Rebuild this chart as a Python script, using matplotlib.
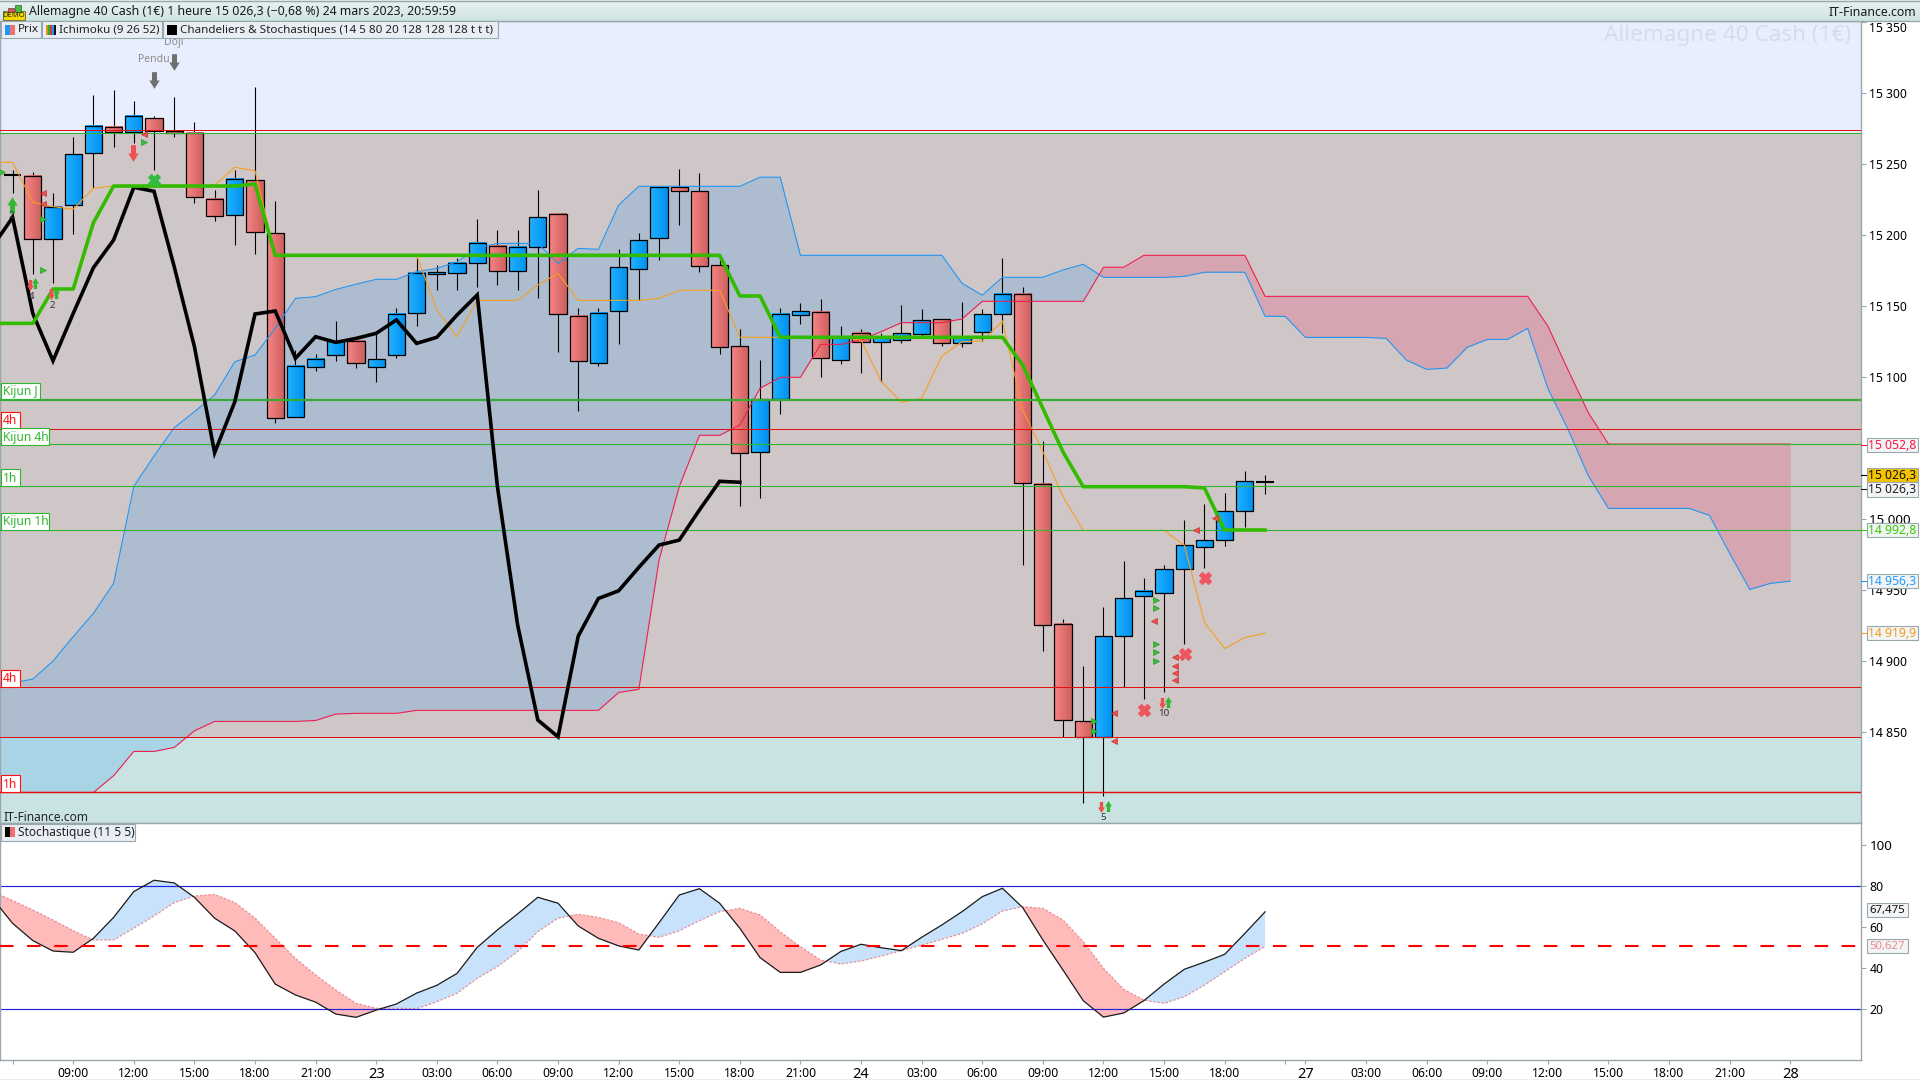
#
# DAX 1h chart: candles + ichimoku on top, stochastic below
#
import numpy as np
import matplotlib
matplotlib.use('Agg')
import matplotlib.pyplot as plt
from matplotlib.colors import LinearSegmentedColormap
from matplotlib.patches import Rectangle
from matplotlib.path import Path

plt.rcParams['font.family'] = ['Noto Sans', 'DejaVu Sans']

# hourly candles, bar 0 is 22 March 06:00
opens = [15242.5, 15241.8, 15197, 15220.9, 15257.5, 15276.3, 15272.3, 15282.2, 15273, 15272, 15225.6, 15213.9, 15238.5,
         15201.2, 15071.6, 15106.8, 15115.3, 15125.6, 15106.8, 15115.3, 15144.8, 15172.3, 15173, 15180, 15192.5, 15174.4,
         15191.8, 15214.6, 15143.2, 15109.6, 15146.7, 15176.3, 15197.7, 15233.6, 15230.8, 15178.7, 15121.6, 15047, 15084.3,
         15144, 15145.6, 15111.8, 15130.8, 15124.4, 15126, 15130.1, 15140.6, 15123.8, 15132, 15144.2, 15158.3, 15024.4,
         14925.8, 14857.5, 14846.7, 14917.8, 14945.5, 14948.1, 14965, 14980.5, 14985, 15005.4, 15026.3]
highs = [15245.8, 15244.1, 15229.8, 15269, 15298.6, 15302.1, 15294.4, 15283.8, 15297, 15279.6, 15231.7, 15245.8, 15304,
         15223.9, 15119, 15116, 15139.2, 15125.6, 15130.8, 15148.4, 15184.7, 15178.9, 15184, 15211.3, 15203.5, 15203.5,
         15231.7, 15215.7, 15148.4, 15148.4, 15190.2, 15201.2, 15233.6, 15246.5, 15243.7, 15182.4, 15133.8, 15112, 15148.4,
         15151.9, 15154.7, 15136, 15133.8, 15131.3, 15150.7, 15147.9, 15140.6, 15152.6, 15147.7, 15183.6, 15163.4, 15055,
         14929.6, 14896.4, 14938, 14970.4, 14958.2, 14967.6, 14999.3, 15010.5, 15018.3, 15033.8, 15031]
lows = [15229.4, 15172.5, 15166.4, 15200.7, 15232.9, 15262.2, 15264.6, 15245.8, 15269.3, 15222.8, 15210.1, 15193.2, 15186.9,
        15067.9, 15071.6, 15104.5, 15111.5, 15106.6, 15096.7, 15113.2, 15136.2, 15161.3, 15161.3, 15163.6, 15164.8, 15161.3,
        15155.9, 15117.9, 15076.3, 15107.8, 15123.3, 15154, 15182.4, 15207.3, 15174.2, 15116.5, 15009.4, 15015.1, 15074,
        15137.4, 15100.3, 15109.2, 15103.1, 15096.8, 15124.2, 15127.3, 15122.1, 15121.4, 15125.6, 15131.3, 14967.7, 14907.3,
        14846.7, 14800.2, 14804.9, 14881.9, 14873.4, 14878.4, 14911.9, 14965.7, 14981, 14994.6, 15017.6]
closes = [15242.5, 15196.9, 15220, 15256.8, 15277, 15272.3, 15283.6, 15273.5, 15271.8, 15226.5, 15213.1, 15239.7, 15201.9,
          15071, 15108, 15112.9, 15125.1, 15109.6, 15112.4, 15144.6, 15173, 15173.7, 15180.5, 15194.1, 15174.4, 15191.8,
          15212.4, 15144.1, 15111, 15145.3, 15177.2, 15196.3, 15233.6, 15230.8, 15178.4, 15121.4, 15046.3, 15084.3, 15144.2,
          15146.3, 15113.2, 15128, 15124.4, 15128.4, 15130.8, 15139.9, 15123.8, 15128.4, 15144.2, 15158.3, 15025.2, 14925.1,
          14858.2, 14846.7, 14917.4, 14944.1, 14949.7, 14964.5, 14981.4, 14985, 15005.4, 15026.5, 15026.3]

# ichimoku, all starting at bar -1
kijun = [15137.8, 15137.8, 15137.8, 15162, 15162, 15208.7, 15234.5, 15234.5, 15234.5, 15234.5, 15234.5, 15234.5, 15234.5,
         15235.9, 15185.7, 15185.7, 15185.7, 15185.7, 15185.7, 15185.7, 15185.7, 15185.7, 15185.7, 15185.7, 15185.7, 15185.7,
         15185.7, 15185.7, 15185.7, 15185.7, 15185.7, 15185.7, 15185.7, 15185.7, 15185.7, 15185.7, 15185.7, 15157.1, 15157.1,
         15128, 15128, 15128, 15128, 15128, 15128, 15128, 15128, 15128, 15128, 15128, 15128, 15108.5, 15078, 15047.2,
         15022.8, 15022.8, 15022.8, 15022.8, 15022.8, 15022.8, 15021.9, 14992.3, 14992.3, 14992.3]
chikou = [15191.8, 15212.4, 15144.8, 15111.5, 15144.8, 15177, 15196.5, 15233.6, 15230.8, 15177.7, 15121.4, 15046.7, 15082.6,
          15144.4, 15146.5, 15113.2, 15128.4, 15124.4, 15127.2, 15130.8, 15140.2, 15123.7, 15128, 15143.7, 15157.8, 15022.8,
          14925.4, 14858.5, 14846.7, 14917.6, 14944.1, 14949.5, 14966, 14981.7, 14985.2, 15006.4, 15026.6, 15025.9]
tenkan = [15251.2, 15251.2, 15223, 15220, 15218.1, 15232.9, 15234.5, 15234.5, 15234.5, 15234.5, 15234.5, 15235, 15247.7,
          15245.3, 15185.7, 15185.7, 15185.7, 15185.7, 15185.7, 15185.7, 15185.7, 15185.7, 15147.2, 15128.4, 15154, 15154,
          15154, 15164.8, 15173, 15154, 15154, 15154, 15154, 15155.4, 15161.1, 15161.1, 15161.1, 15128, 15128, 15128, 15128,
          15128, 15128, 15126, 15096.8, 15082.2, 15085, 15114.8, 15124.9, 15125.4, 15139.5, 15076.8, 15047.5, 15015.8,
          14992, 14992, 14992, 14992, 14992, 14981.7, 14927.2, 14908.9, 14916.6, 14919.7]
senkou_b = [14883.8, 14884.7, 14887.3, 14900, 14917.2, 14933.6, 14954.7, 15023, 15044.4, 15064.3, 15075.6, 15087.3, 15110.8,
            15115.5, 15134.3, 15155.4, 15156.6, 15161.7, 15165.3, 15168.8, 15168.8, 15174.2, 15176.5, 15181.2, 15190.6,
            15194.1, 15194.1, 15194.1, 15180, 15190.6, 15189.9, 15221.1, 15234.3, 15234.3, 15234.3, 15234.3, 15234.3, 15234.3,
            15240.7, 15240.7, 15185.7, 15185.7, 15185.7, 15185.7, 15185.7, 15185.7, 15185.7, 15185.7, 15166, 15157.6, 15170.2,
            15170.2, 15170.2, 15175.4, 15179.4, 15170.2, 15170.2, 15170.2, 15170.2, 15170.9, 15173.8, 15173.8, 15173.8,
            15142.8, 15142.7, 15127.9, 15127.9, 15127.9, 15127.9, 15127.2, 15111.9, 15105.4, 15106.3, 15120.9, 15126.5,
            15126.5, 15134.3, 15092, 15063.1, 15030.5, 15007.5, 15007.5, 15007.5, 15007.5, 15007.5, 15002.6, 14975.8, 14950.4,
            14954.7, 14956.3]
senkou_a = [14807.5, 14807.5, 14807.5, 14807.5, 14807.5, 14807.5, 14819.3, 14836.4, 14836.4, 14839.2, 14850.9, 14857.5,
            14857.5, 14857.5, 14857.5, 14857.5, 14858.2, 14862.7, 14863.2, 14863.2, 14863.2, 14865.3, 14865.3, 14865.3,
            14865.3, 14865.3, 14865.3, 14865.3, 14865.3, 14865.3, 14865.3, 14877.9, 14880.1, 14971.2, 15022.8, 15059, 15059,
            15066.2, 15092.1, 15099.8, 15099.8, 15123, 15123, 15126.1, 15132, 15138.3, 15138.3, 15138.3, 15140.9, 15153.3,
            15153.3, 15153.3, 15153.3, 15153.3, 15153.3, 15177.3, 15177.3, 15185.7, 15185.7, 15185.7, 15185.7, 15185.7,
            15185.7, 15156.8, 15156.8, 15156.8, 15156.8, 15156.8, 15156.8, 15156.8, 15156.8, 15156.8, 15156.8, 15156.8,
            15156.8, 15156.8, 15156.8, 15135.9, 15104.9, 15074.9, 15052.8, 15052.8, 15052.8, 15052.8, 15052.8, 15052.8,
            15052.8, 15052.8, 15052.8, 15052.8]

# support / resistance levels
zone_top = 15272
zone_bottom = 14846.3
red_levels = [15274, 15063.1, 14881.5, 14846.3, 14807.5]
green_levels = [15272, 15052.8, 15023, 14992]
kijun_day = 15083.8

# signals on the candles
tri_up_x = [-0.52, 1.5, 1.5, 6.49, 56.59, 56.59, 56.59, 56.59, 56.59, 53.55, 53.55]
tri_up_y = [15244.4, 15211, 15175.1, 15265.7, 14942.9, 14937.5, 14911.7, 14906.1, 14900.4, 14858, 14850.7]
tri_dn_x = [1.48, 1.48, 6.49, 56.52, 57.56, 57.56, 57.56, 57.56, 54.54, 54.54, 58.57, 59.54]
tri_dn_y = [15229.8, 15221.6, 15271.1, 14927.9, 14902.6, 14896.7, 14891.8, 14886.8, 14863.8, 14843.4, 14992, 15000.9]
cross_x = [56.03, 58.05, 59.05]
cross_y = [14865.9, 14904.7, 14958.2]
big_up = (-0.02, 15221.1)
big_dn = (5.98, 15257.5)
green_cross = (7.02, 15238.5)
small_up_x = [1.11, 2.16, 54.2, 57.2]
small_up_y = [15166, 15159.4, 14798.1, 14871.4]
small_dn_x = [0.85, 1.9, 53.9, 56.9]
small_dn_y = [15164.8, 15158.5, 14797.2, 14870.2]
count_labels = [('2', -0.06, 15214.1), ('4', 0.93, 15157), ('2', 1.96, 15150.7), ('5', 54.0, 14789.7), ('10', 57.0, 14862.9)]
pattern_labels = [('Pendu', 7.0, 15309.2), ('Doji', 8.0, 15321.8)]

# stochastic, starting at bar -1
stoch_k = [74.1, 61.9, 53.5, 48.4, 47.8, 54.6, 64.8, 77.4, 82.9, 81.6, 74.6, 64.4, 58.2, 47.6, 32.3, 27, 23.5, 17.7, 16.1,
           19.6, 22.6, 27.9, 31.7, 37.5, 50.2, 58.7, 66.5, 74.6, 71.7, 60.6, 54.6, 50.9, 48.9, 62.2, 75.7, 78.8, 71.7, 59.5,
           45.2, 38, 38, 41.6, 48.2, 51.7, 50, 48.6, 55.1, 61.1, 67.6, 74.9, 79, 69.6, 53.8, 39.1, 24.2, 16.2, 18.2, 24.2,
           32.3, 39.5, 43, 46.8, 57, 67.5]
stoch_d = [77.4, 73, 68.4, 63.5, 58.3, 53.8, 53.8, 59.5, 65.5, 72, 75.2, 76, 72, 64.4, 54.6, 44.8, 36.7, 29.4, 22.9, 20.5,
           20.5, 20.3, 23.7, 27.8, 35.1, 40.8, 48.1, 57.8, 64.4, 66.3, 64.8, 62.2, 56.7, 55.1, 58.3, 63.2, 67.6, 69.2, 66,
           57.8, 50.5, 44, 42.1, 43.5, 46, 48.6, 51.3, 54.1, 57, 61.6, 67.9, 70, 69.2, 63.5, 53, 40, 29.7, 24.5, 22.9, 26.1,
           31.8, 38.3, 44.8, 50.6]
stoch_mid = 50.627

price_ticks = [15350, 15300, 15250, 15200, 15150, 15100, 15000, 14950, 14900, 14850]
price_tick_labels = ['15 350', '15 300', '15 250', '15 200', '15 150', '15 100', '15 000', '14 950', '14 900', '14 850']
stoch_ticks = [100, 80, 60, 40, 20]
time_ticks = [0, 3, 6, 9, 12, 15, 18, 21, 24, 27, 30, 33, 36, 39, 42, 45, 48, 51, 54, 57, 60, 63, 64, 67, 70, 73, 76, 79,
              82, 85, 88]
time_labels = ['', '09:00', '12:00', '15:00', '18:00', '21:00', '23', '03:00', '06:00', '09:00', '12:00', '15:00', '18:00',
               '21:00', '24', '03:00', '06:00', '09:00', '12:00', '15:00', '18:00', '', '27', '03:00', '06:00', '09:00',
               '12:00', '15:00', '18:00', '21:00', '28']

C_AXIS = '#9AA8AE'
C_BLUE = '#2196F3'
C_RED = '#F0204E'
C_GREEN = '#2FB52F'
C_KIJUN = '#33BB00'
C_ORANGE = '#F5A020'

fig = plt.figure(figsize=(19.2, 10.8), dpi=100, facecolor='white')
ax = fig.add_axes([0, 257 / 1080, 1861 / 1920, 802 / 1080])
ax2 = fig.add_axes([0, 20 / 1080, 1861 / 1920, 237 / 1080])
ov = fig.add_axes([0, 0, 1, 1], zorder=20)
ov.set_xlim(0, 1920)
ov.set_ylim(1080, 0)
ov.axis('off')
ov.patch.set_alpha(0)

xmin, xmax = -0.624, 91.5
ymin, ymax = 14786, 15350.7

# background zones
ax.axhspan(zone_top, ymax, color='#E8EEFD', lw=0, zorder=0)
ax.axhspan(zone_bottom, zone_top, color='#CFC6C7', lw=0, zorder=0)
ax.axhspan(ymin, zone_bottom, color='#C9E3E3', lw=0, zorder=0)

# cloud
xc = np.arange(-1, 89)
sa = np.array(senkou_a)
sb = np.array(senkou_b)
ax.fill_between(xc, sa, sb, where=sb >= sa, interpolate=True, color='#2196F3', alpha=0.19, lw=0, zorder=1)
ax.fill_between(xc, sa, sb, where=sb <= sa, interpolate=True, color='#EE285A', alpha=0.2, lw=0, zorder=1)

# candles
cm_up = LinearSegmentedColormap.from_list('up', ['#22B2FF', '#0090F0'])
cm_dn = LinearSegmentedColormap.from_list('dn', ['#F78484', '#CC5F5F'])
grad = np.linspace(0, 1, 24).reshape(1, -1)
w = 0.85
for i, (o, h, l, c) in enumerate(zip(opens, highs, lows, closes)):
    ax.vlines(i, l, h, color='black', lw=0.8, zorder=3)
    if o == c:
        ax.hlines(o, i - 0.44, i + 0.44, color='black', lw=1.5, zorder=3.2)
        continue
    top, bot = max(o, c), min(o, c)
    ax.imshow(grad, extent=(i - w / 2, i + w / 2, bot, top), aspect='auto', cmap=cm_up if c > o else cm_dn,
              vmin=0, vmax=1, interpolation='bilinear', zorder=3.1)
    ax.add_patch(Rectangle((i - w / 2, bot), w, top - bot, fill=False, ec='black', lw=0.9, zorder=3.2))

# indicator lines
ax.plot(xc, senkou_b, color=C_BLUE, lw=0.8, zorder=4)
ax.plot(xc, senkou_a, color=C_RED, lw=0.8, zorder=4)
ax.plot(np.arange(-1, len(tenkan) - 1), tenkan, color=C_ORANGE, lw=0.8, zorder=4)

# levels
for lev in red_levels:
    ax.axhline(lev, color='#E01010', lw=1.05 if lev == 14807.5 else 0.72, zorder=5)
for lev in green_levels:
    ax.axhline(lev, color=C_GREEN, lw=0.8, zorder=5)
ax.axhline(kijun_day, color='#35AD35', lw=1.6, zorder=5)

ax.plot(np.arange(-1, len(chikou) - 1), chikou, color='black', lw=2.6, solid_joinstyle='miter', zorder=6)
ax.plot(np.arange(-1, len(kijun) - 1), kijun, color=C_KIJUN, lw=2.6, solid_joinstyle='round', zorder=6)

# signal markers
up_arrow = Path([(-0.3, -1), (0.3, -1), (0.3, 0), (0.62, 0), (0, 1), (-0.62, 0), (-0.3, 0), (-0.3, -1)], closed=True)
dn_arrow = Path([(-0.3, 1), (0.3, 1), (0.3, 0), (0.62, 0), (0, -1), (-0.62, 0), (-0.3, 0), (-0.3, 1)], closed=True)
ax.plot(tri_up_x, tri_up_y, '>', color='#38C038', mec='#2A9A2A', mew=0.5, ms=4.8, ls='none', zorder=7)
ax.plot(tri_dn_x, tri_dn_y, '<', color='#EE5050', mec='#C83030', mew=0.5, ms=4.8, ls='none', zorder=7)
ax.plot(cross_x, cross_y, 'X', color='#EE5560', mec='#EE5560', mew=0.8, ms=8.5, ls='none', zorder=7)
ax.plot(*green_cross, 'X', color='#33BB44', mec='#33BB44', mew=0.8, ms=8.5, ls='none', zorder=7)
ax.plot(*big_up, marker=up_arrow, color='#33B833', mew=0, ms=12, ls='none', zorder=7)
ax.plot(*big_dn, marker=dn_arrow, color='#EE5050', mew=0, ms=12, ls='none', zorder=7)
ax.plot(small_up_x, small_up_y, ls='none', marker=up_arrow, color='#33B833', mew=0, ms=8, zorder=7)
ax.plot(small_dn_x, small_dn_y, ls='none', marker=dn_arrow, color='#EE5050', mew=0, ms=8, zorder=7)
for txt, x, y in count_labels:
    ax.text(x, y, txt, fontsize=7, color='#333333', ha='center', va='center', zorder=7)
for txt, x, y in pattern_labels:
    ax.plot(x, y, ls='none', marker=dn_arrow, color='#707070', mew=0, ms=12, zorder=7)
    ax.text(x, y + (14.7 if txt == 'Pendu' else 13.9), txt, fontsize=7.5, color='#8C8C8C', ha='center', va='center',
            clip_on=True, zorder=2)

ax.set_xlim(xmin, xmax)
ax.set_ylim(ymin, ymax)
ax.set_xticks([])
ax.set_yticks(price_ticks, price_tick_labels)
ax.yaxis.tick_right()
ax.tick_params(axis='y', length=3.6, width=0.8, color=C_AXIS, pad=2.5, labelsize=8.8)
for lab, t in zip(ax.get_yticklabels(), price_ticks):
    if t == 15000:
        lab.set_fontweight('bold')
        lab.set_fontsize(9.6)
    if t == 15350:
        lab.set_va('top')
for s in ax.spines.values():
    s.set_color(C_AXIS)
    s.set_linewidth(1)

# stochastic panel
xs = np.arange(-1, 63)
k = np.array(stoch_k)
d = np.array(stoch_d)
ax2.fill_between(xs, k, d, where=k >= d, interpolate=True, color='#C8E2FC', lw=0, zorder=1)
ax2.fill_between(xs, k, d, where=k <= d, interpolate=True, color='#FFBABA', lw=0, zorder=1)
ax2.plot(xs, d, color='#E88A90', lw=0.85, ls=(0, (2, 1.5)), zorder=2)
ax2.plot(xs, k, color='#1A1A1A', lw=0.9, zorder=3)
ax2.axhline(80, color='#2222DD', lw=0.85, zorder=2)
ax2.axhline(20, color='#2222DD', lw=0.85, zorder=2)
ax2.axhline(stoch_mid, color='#FF0000', lw=1.5, ls=(0, (6.5, 6.5)), zorder=4)
ax2.set_xlim(xmin, xmax)
ax2.set_ylim(-4.7, 110.8)
ax2.set_yticks(stoch_ticks)
ax2.yaxis.tick_right()
ax2.tick_params(axis='y', length=3.6, width=0.8, color=C_AXIS, pad=2.5, labelsize=8.8)
ax2.get_yticklabels()[0].set_fontweight('bold')
ax2.get_yticklabels()[0].set_fontsize(9.6)
ax2.set_xticks(time_ticks, time_labels)
ax2.tick_params(axis='x', length=3.2, width=0.8, color=C_AXIS, pad=1.5, labelsize=8.8)
for lab in ax2.get_xticklabels():
    if len(lab.get_text()) == 2:
        lab.set_fontweight('bold')
        lab.set_fontsize(10.5)
for s in ax2.spines.values():
    s.set_color(C_AXIS)
    s.set_linewidth(1)


def box(x0, y0, x1, y1, fc='white', ec=C_AXIS, lw=0.8, z=3):
    ov.add_patch(Rectangle((x0, y0), x1 - x0, y1 - y0, fc=fc, ec=ec, lw=lw, zorder=z))


# title bar
ov.imshow(np.linspace(0, 1, 21).reshape(-1, 1), extent=(0, 1920, 21, 0), aspect='auto', zorder=2,
          cmap=LinearSegmentedColormap.from_list('bar', ['#E6F2F0', '#CFE4E2']), vmin=0, vmax=1)
ov.set_xlim(0, 1920)
ov.set_ylim(1080, 0)
ov.plot([0, 1920], [0.5, 0.5], color=C_AXIS, lw=1, zorder=3)
ov.plot([0, 1920], [20.5, 20.5], color=C_AXIS, lw=1, zorder=3)
ov.add_patch(Rectangle((3, 11), 22, 9, fc='#F5D800', ec='#444444', lw=0.5, zorder=3))
ov.text(14, 15.6, 'DEMO', fontsize=5.5, color='#222222', ha='center', va='center', zorder=4)
ov.add_patch(Rectangle((8, 8), 6, 4, fc='#E05050', ec='#333333', lw=0.4, zorder=3))
ov.add_patch(Rectangle((15, 5), 6, 7, fc='#40C040', ec='#333333', lw=0.4, zorder=3))
ov.text(29, 12, 'Allemagne 40 Cash (1€) 1 heure 15 026,3 (\u22120,68 %) 24 mars 2023, 20:59:59', fontsize=8.85,
        fontweight='semibold', color='#1A1A1A', va='center', zorder=4)
ov.text(1916, 12, 'IT-Finance.com', fontsize=8.9, fontweight='semibold', color='#1A1A1A', ha='right', va='center', zorder=4)
ov.text(1851, 36, 'Allemagne 40 Cash (1€)', fontsize=16.2, color='#D3DDEE', ha='right', va='center', zorder=2)

# legend row
box(1, 21, 41, 38, fc='#E8EEF4')
box(42, 21, 162, 38, fc='#E8EEF4')
box(163, 21, 498, 38, fc='#E8EEF4')
ov.add_patch(Rectangle((5, 25), 5, 10, fc='#2196F3', lw=0, zorder=4))
ov.add_patch(Rectangle((10, 25), 5, 10, fc='#F07070', lw=0, zorder=4))
for j, col in enumerate(['#E09020', '#30B030', '#E03050', '#2196F3', '#111111']):
    ov.add_patch(Rectangle((46 + 2 * j, 25), 2, 10, fc=col, lw=0, zorder=4))
ov.add_patch(Rectangle((167, 25), 10, 10, fc='black', lw=0, zorder=4))
ov.text(18, 30, 'Prix', fontsize=8.4, color='#222222', va='center', zorder=4)
ov.text(59, 30, 'Ichimoku (9 26 52)', fontsize=8.4, color='#222222', va='center', zorder=4)
ov.text(180, 30, 'Chandeliers & Stochastiques (14 5 80 20 128 128 128 t t t)', fontsize=8.4, color='#222222',
        va='center', zorder=4)

# stochastic legend
ov.text(3, 817.5, 'IT-Finance.com', fontsize=8.6, color='#222222', va='center', zorder=4)
box(0.5, 824, 135, 840.5, fc='#E8EEF4')
ov.add_patch(Rectangle((5, 827), 5, 10, fc='black', lw=0, zorder=4))
ov.add_patch(Rectangle((10, 827), 5, 10, fc='#F07070', lw=0, zorder=4))
ov.text(18, 832.5, 'Stochastique (11 5 5)', fontsize=8.6, color='#222222', va='center', zorder=4)

# level tags on the left
tags = [('Kijun J', 40, 383, 399, C_GREEN), ('4h', 20, 412, 429, '#FF1010'), ('Kijun 4h', 49, 428, 445, C_GREEN),
        ('1h', 20, 469, 486, C_GREEN), ('Kijun 1h', 49, 513, 530, C_GREEN), ('4h', 20, 670, 687, '#FF1010'),
        ('1h', 20, 775, 792, '#FF1010')]
for txt, x1, y0, y1, col in tags:
    box(0.5, y0, x1, y1, ec=col)
    ov.text(3, (y0 + y1) / 2 + 0.5, txt, fontsize=8.6, color=col, va='center', zorder=4)

# value boxes on the right
vals = [('15 052,8', 445, '#FF1744', '#F2F4F5'), ('15 026,3', 474.7, '#111111', '#F5C400'),
        ('15 026,3', 489.3, '#222222', '#F2F4F5'), ('14 992,8', 530, '#33CC00', '#F2F4F5'),
        ('14 956,3', 581, '#1E9BFF', '#F2F4F5'), ('14 919,9', 633, '#F59A14', '#F2F4F5')]
for txt, yc, col, fc in vals:
    box(1866.7, yc - 7.2, 1917.7, yc + 7.2, fc=fc)
    ov.text(1892, yc + 0.5, txt, fontsize=8.8, color=col, ha='center', va='center', zorder=4)
    ov.plot([1861, 1866], [yc, yc], color=col if fc != '#F5C400' else 'black', lw=0.8, zorder=3)
box(1866.7, 903, 1908, 917, fc='#F2F4F5')
ov.text(1887, 910.5, '67,475', fontsize=8.2, color='#111111', ha='center', va='center', zorder=4)
box(1866.7, 939, 1908, 953, fc='#F2F4F5')
ov.text(1887, 946.5, '50,627', fontsize=8.2, color='#EE8A8A', ha='center', va='center', zorder=4)

ov.plot([0, 1920], [1079.5, 1079.5], color=C_AXIS, lw=1, zorder=3)

plt.savefig('out.png', dpi=100)
plt.close()
